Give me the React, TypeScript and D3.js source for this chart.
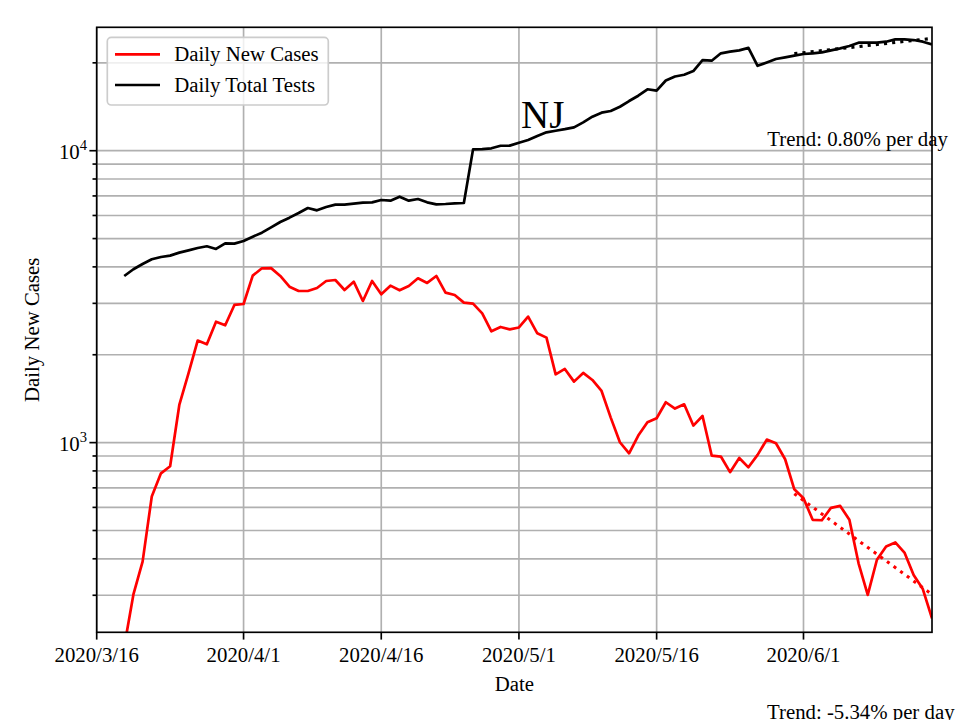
import React from "react";
import * as d3 from "d3";

const startDate = "2020-03-19";
const dailyNewCases = [
  200, 302, 391, 654, 785, 830, 1346, 1728, 2236, 2172, 2597, 2523, 2962, 2985,
  3733, 3955, 3960, 3723, 3422, 3307, 3307, 3386, 3578, 3607, 3334, 3560, 3057,
  3578, 3222, 3449, 3325, 3440, 3655, 3524, 3723, 3264, 3205, 3017, 2993, 2773,
  2406, 2490, 2444, 2480, 2702, 2369, 2289, 1714, 1788, 1618, 1733, 1639, 1503,
  1218, 1003, 919, 1057, 1174, 1212, 1375, 1308, 1353, 1144, 1234, 903, 896, 792,
  886, 823, 908, 1024, 995, 877, 692, 645, 544, 542, 598, 607, 544, 386, 301, 397,
  441, 455, 420, 352, 315, 250,
];
const dailyTotalTests = [
  3722, 3925, 4093, 4246, 4325, 4371, 4475, 4558, 4643, 4705, 4607, 4817, 4804,
  4906, 5076, 5239, 5464, 5700, 5897, 6118, 6364, 6248, 6414, 6533, 6533, 6586,
  6638, 6655, 6779, 6743, 6960, 6743, 6832, 6655, 6551, 6568, 6603, 6620, 10107,
  10120, 10190, 10400, 10410, 10650, 10880, 11226, 11561, 11707, 11850, 12025,
  12510, 13076, 13496, 13677, 14147, 14797, 15431, 16233, 16055, 17400, 17950,
  18200, 18750, 20440, 20340, 21560, 21840, 22070, 22500, 19530, 20070, 20620,
  20880, 21160, 21440, 21560, 21730, 22070, 22420, 22840, 23440, 23440, 23440,
  23630, 24070, 24070, 23940, 23630, 23130,
];
const trendCases = [
  { date: "2020-05-31", value: 668 },
  { date: "2020-06-15", value: 302 },
];
const trendTests = [
  { date: "2020-05-31", value: 21500 },
  { date: "2020-06-15", value: 24250 },
];
const xTickDates = ["2020-03-16", "2020-04-01", "2020-04-16", "2020-05-01", "2020-05-16", "2020-06-01"];
const xTickLabels = ["2020/3/16", "2020/4/1", "2020/4/16", "2020/5/1", "2020/5/16", "2020/6/1"];
const xDomain = ["2020-03-16", "2020-06-15"];
const yDomain = [224, 26470];
const yMajorTicks = [1000, 10000];
const yMajorExp = ["3", "4"];
const legendLabels = ["Daily New Cases", "Daily Total Tests"];
const titleText = "NJ";
const trendTestsText = "Trend: 0.80% per day";
const trendCasesText = "Trend: -5.34% per day";

const parse = d3.utcParse("%Y-%m-%d");
const FONT = "'Liberation Serif', 'Times New Roman', serif";

export default function App() {
  const W = 960, H = 720;
  const L = 96.7, R = 932, T = 27.3, B = 632.3;
  const x = d3.scaleUtc().domain(xDomain.map((s) => parse(s)!)).range([L, R]);
  const y = d3.scaleLog().domain(yDomain).range([B, T]);
  const start = parse(startDate)!;
  const dateAt = (i: number) => d3.utcDay.offset(start, i);

  const line = d3
    .line<number>()
    .x((_, i) => x(dateAt(i)))
    .y((v) => y(v));
  const tline = d3
    .line<{ date: string; value: number }>()
    .x((p) => x(parse(p.date)!))
    .y((p) => y(p.value));

  const minorTicks: number[] = [];
  for (let e = 2; e <= 4; e++) {
    for (let m = 1; m <= 9; m++) {
      const v = m * Math.pow(10, e);
      if (v >= yDomain[0] && v <= yDomain[1]) minorTicks.push(v);
    }
  }
  const grid = "#b0b0b0";
  const fs = 20.8;

  return (
    <svg width={W} height={H} style={{ position: "absolute", left: 0, top: 0, background: "#fff" }} fontFamily={FONT}>
      <rect x={0} y={0} width={W} height={H} fill="#fff" />
      <defs>
        <clipPath id="plot">
          <rect x={L} y={T} width={R - L} height={B - T} />
        </clipPath>
      </defs>
      {/* grid */}
      {minorTicks.map((v, i) => (
        <line key={"hg" + i} x1={L} x2={R} y1={y(v)} y2={y(v)} stroke={grid} strokeWidth={1.67} />
      ))}
      {xTickDates.map((d, i) => (
        <line key={"vg" + i} x1={x(parse(d)!)} x2={x(parse(d)!)} y1={T} y2={B} stroke={grid} strokeWidth={1.67} />
      ))}
      {/* data */}
      <g clipPath="url(#plot)" fill="none" strokeLinejoin="round">
        <path d={line(dailyNewCases)!} stroke="#ff0000" strokeWidth={2.7} />
        <path d={line(dailyTotalTests)!} stroke="#000" strokeWidth={2.7} />
        <path d={tline(trendCases)!} stroke="#ff0000" strokeWidth={3.1} strokeDasharray="3.1 5.1" />
        <path d={tline(trendTests)!} stroke="#000" strokeWidth={3.1} strokeDasharray="3.1 5.1" />
      </g>
      {/* spines */}
      <rect x={L} y={T} width={R - L} height={B - T} fill="none" stroke="#000" strokeWidth={1.67} />
      {/* y ticks */}
      {minorTicks.map((v, i) => {
        const major = yMajorTicks.includes(v);
        return (
          <line key={"yt" + i} x1={L - (major ? 7.3 : 4.2)} x2={L} y1={y(v)} y2={y(v)} stroke="#000" strokeWidth={1.67} />
        );
      })}
      {yMajorTicks.map((v, i) => (
        <text key={"yl" + i} x={87} y={y(v) + 8} textAnchor="end" fontSize={fs} fill="#000">
          <tspan>10</tspan>
          <tspan dy={-9} fontSize={14.6}>{yMajorExp[i]}</tspan>
        </text>
      ))}
      {/* x ticks */}
      {xTickDates.map((d, i) => (
        <g key={"xt" + i}>
          <line x1={x(parse(d)!)} x2={x(parse(d)!)} y1={B} y2={B + 7.3} stroke="#000" strokeWidth={1.67} />
          <text x={x(parse(d)!)} y={661.7} textAnchor="middle" fontSize={fs} fill="#000">
            {xTickLabels[i]}
          </text>
        </g>
      ))}
      {/* axis labels */}
      <text x={(L + R) / 2} y={690.5} textAnchor="middle" fontSize={fs}>Date</text>
      <text transform={`translate(39,${(T + B) / 2}) rotate(-90)`} textAnchor="middle" fontSize={fs}>
        Daily New Cases
      </text>
      {/* title & trends */}
      <text x={521} y={128.3} fontSize={39}>{titleText}</text>
      <text x={767.3} y={146} fontSize={fs}>{trendTestsText}</text>
      <text x={767} y={718.8} fontSize={fs}>{trendCasesText}</text>
      {/* legend */}
      <rect x={107.3} y={37.3} width={221} height={67.7} rx={4} ry={4} fill="#fff" fillOpacity={0.8} stroke="#cccccc" strokeWidth={1.67} />
      <line x1={115} x2={160} y1={54.3} y2={54.3} stroke="#ff0000" strokeWidth={2.7} />
      <line x1={115} x2={160} y1={85} y2={85} stroke="#000" strokeWidth={2.7} />
      <text x={174.3} y={60.7} fontSize={fs}>{legendLabels[0]}</text>
      <text x={174.3} y={91.7} fontSize={fs}>{legendLabels[1]}</text>
    </svg>
  );
}
